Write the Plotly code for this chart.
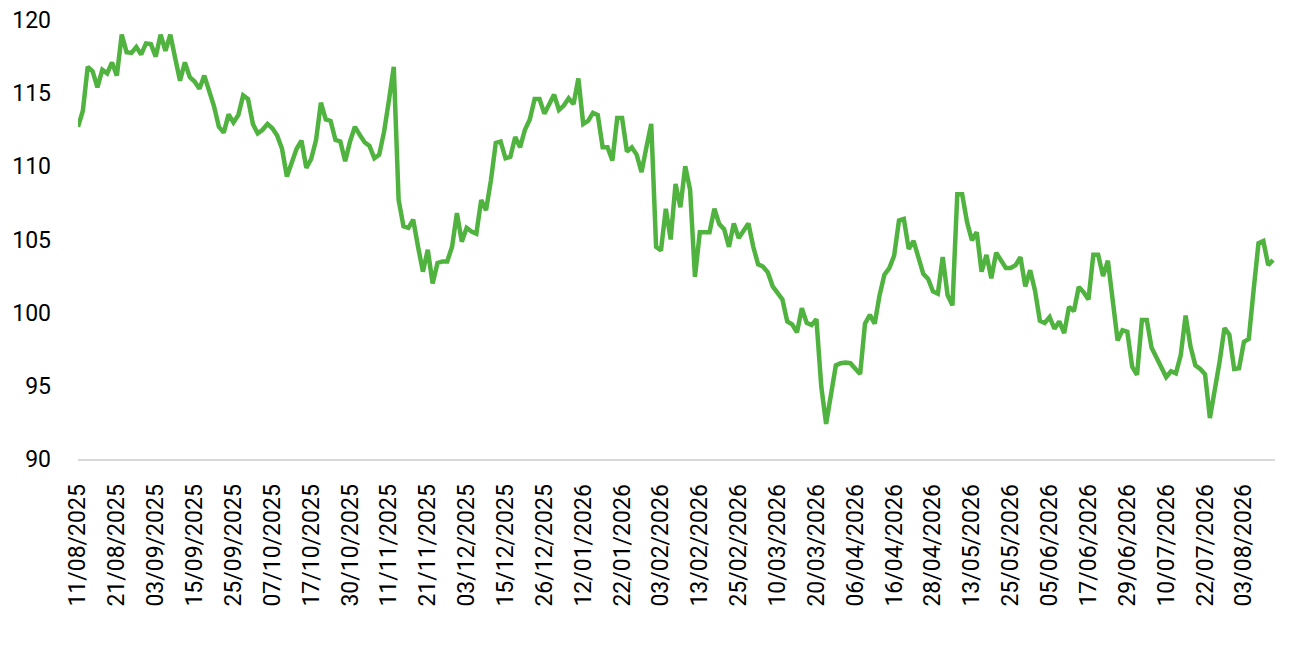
import pandas as pd
import plotly.graph_objects as go

# Tick labels shown on the category axis (every 8th point)
tick_labels = [
    "11/08/2025", "21/08/2025", "03/09/2025", "15/09/2025", "25/09/2025",
    "07/10/2025", "17/10/2025", "30/10/2025", "11/11/2025", "21/11/2025",
    "03/12/2025", "15/12/2025", "26/12/2025", "12/01/2026", "22/01/2026",
    "03/02/2026", "13/02/2026", "25/02/2026", "10/03/2026", "20/03/2026",
    "06/04/2026", "16/04/2026", "28/04/2026", "13/05/2026", "25/05/2026",
    "05/06/2026", "17/06/2026", "29/06/2026", "10/07/2026", "22/07/2026",
    "03/08/2026",
]

values = [
    112.7, 113.8, 116.8, 116.5, 115.4, 116.6, 116.35, 117.1, 116.2, 119.0,
    117.8, 117.75, 118.15, 117.65, 118.4, 118.35, 117.5, 119.0, 117.9, 119.0,
    117.4, 115.85, 117.1, 116.1, 115.8, 115.3, 116.2, 115.2, 114.1, 112.7,
    112.3, 113.55, 113.0, 113.5, 114.85, 114.6, 112.9, 112.25, 112.5, 112.9,
    112.6, 112.1, 111.2, 109.3, 110.3, 111.2, 111.75, 109.9, 110.5, 111.8,
    114.35, 113.2, 113.1, 111.8, 111.7, 110.35, 111.7, 112.7, 112.15, 111.65,
    111.4, 110.55, 110.8, 112.35, 114.5, 116.8, 107.7, 105.9, 105.8, 106.35,
    104.5, 102.8, 104.3, 102.0, 103.4, 103.5, 103.5, 104.5, 106.8, 104.85,
    105.8, 105.55, 105.4, 107.7, 107.0, 109.05, 111.6, 111.7, 110.55, 110.65,
    112.0, 111.3, 112.5, 113.2, 114.6, 114.6, 113.6, 114.3, 114.9, 113.85,
    114.15, 114.65, 114.25, 116.0, 112.9, 113.1, 113.65, 113.5, 111.3, 111.3,
    110.4, 113.3, 113.3, 111.0, 111.3, 110.8, 109.6, 111.3, 112.9, 104.5,
    104.25, 107.1, 105.0, 108.8, 107.2, 110.0, 108.4, 102.45, 105.5, 105.5,
    105.5, 107.1, 106.05, 105.7, 104.5, 106.1, 105.1, 105.6, 106.1, 104.5,
    103.3, 103.15, 102.75, 101.8, 101.4, 100.9, 99.4, 99.2, 98.65, 100.3,
    99.3, 99.15, 99.55, 94.95, 92.4, 94.3, 96.4, 96.55, 96.6, 96.55,
    96.2, 95.8, 99.25, 99.85, 99.25, 101.2, 102.6, 103.05, 103.9, 106.3,
    106.4, 104.35, 104.9, 103.8, 102.65, 102.3, 101.45, 101.3, 103.8, 101.2,
    100.5, 108.1, 108.1, 106.2, 104.95, 105.5, 102.8, 103.95, 102.35, 104.1,
    103.6, 103.05, 103.05, 103.25, 103.8, 101.8, 102.9, 101.5, 99.45, 99.3,
    99.7, 98.9, 99.4, 98.6, 100.4, 100.1, 101.75, 101.4, 100.9, 103.95,
    103.95, 102.5, 103.55, 100.9, 98.1, 98.8, 98.7, 96.3, 95.75, 99.5,
    99.5, 97.6, 96.9, 96.3, 95.6, 96.0, 95.85, 97.1, 99.8, 97.7,
    96.4, 96.15, 95.8, 92.8, 94.7, 96.65, 98.95, 98.5, 96.15, 96.2,
    98.0, 98.2, 101.55, 104.75, 104.9, 103.25, 103.6,
]

POINTS_PER_LABEL = 8

# Build the date categories: each labelled date followed by the next trading days
tick_dates = [pd.to_datetime(t, format="%d/%m/%Y") for t in tick_labels]
categories = []
for k, start in enumerate(tick_dates):
    if k + 1 < len(tick_dates):
        days = pd.bdate_range(start, tick_dates[k + 1], inclusive="left")
    else:
        days = pd.bdate_range(start, periods=len(values) - len(categories))
    days = list(days)[:POINTS_PER_LABEL]
    while len(days) < POINTS_PER_LABEL and k + 1 < len(tick_dates):
        days.append(days[-1] + pd.Timedelta(hours=1))
    categories.extend(d.strftime("%d/%m/%Y") if d.hour == 0 else d.strftime("%d/%m/%Y %H") for d in days)
categories = categories[:len(values)]

fig = go.Figure()
fig.add_trace(go.Scatter(
    x=categories, y=values, mode="lines",
    line=dict(color="#50b33f", width=4.5),
    hoverinfo="x+y", showlegend=False,
))

font_family = "Roboto, Lato, sans-serif"
fig.update_layout(
    width=1300, height=650,
    margin=dict(l=70, r=33, t=12, b=199),
    paper_bgcolor="white", plot_bgcolor="white",
    font=dict(family=font_family, size=23, color="#000000"),
)
fig.update_xaxes(
    type="category", automargin=False,
    range=[0, len(values) + 0.4 - 1],
    tickmode="array", tickvals=tick_labels, ticktext=tick_labels,
    tickangle=-90, showgrid=False, zeroline=False,
    showline=True, linecolor="#d9d9d9", linewidth=2,
    ticks="", ticklabelstandoff=14, ticklabeloverflow="allow",
    tickfont=dict(size=23),
)
fig.update_yaxes(
    automargin=False,
    range=[90, 120], dtick=5, tick0=90,
    showgrid=False, zeroline=False, showline=False,
    ticks="", ticklabelstandoff=26, ticklabeloverflow="allow",
    tickfont=dict(size=23),
)

fig.write_html("out.html")
